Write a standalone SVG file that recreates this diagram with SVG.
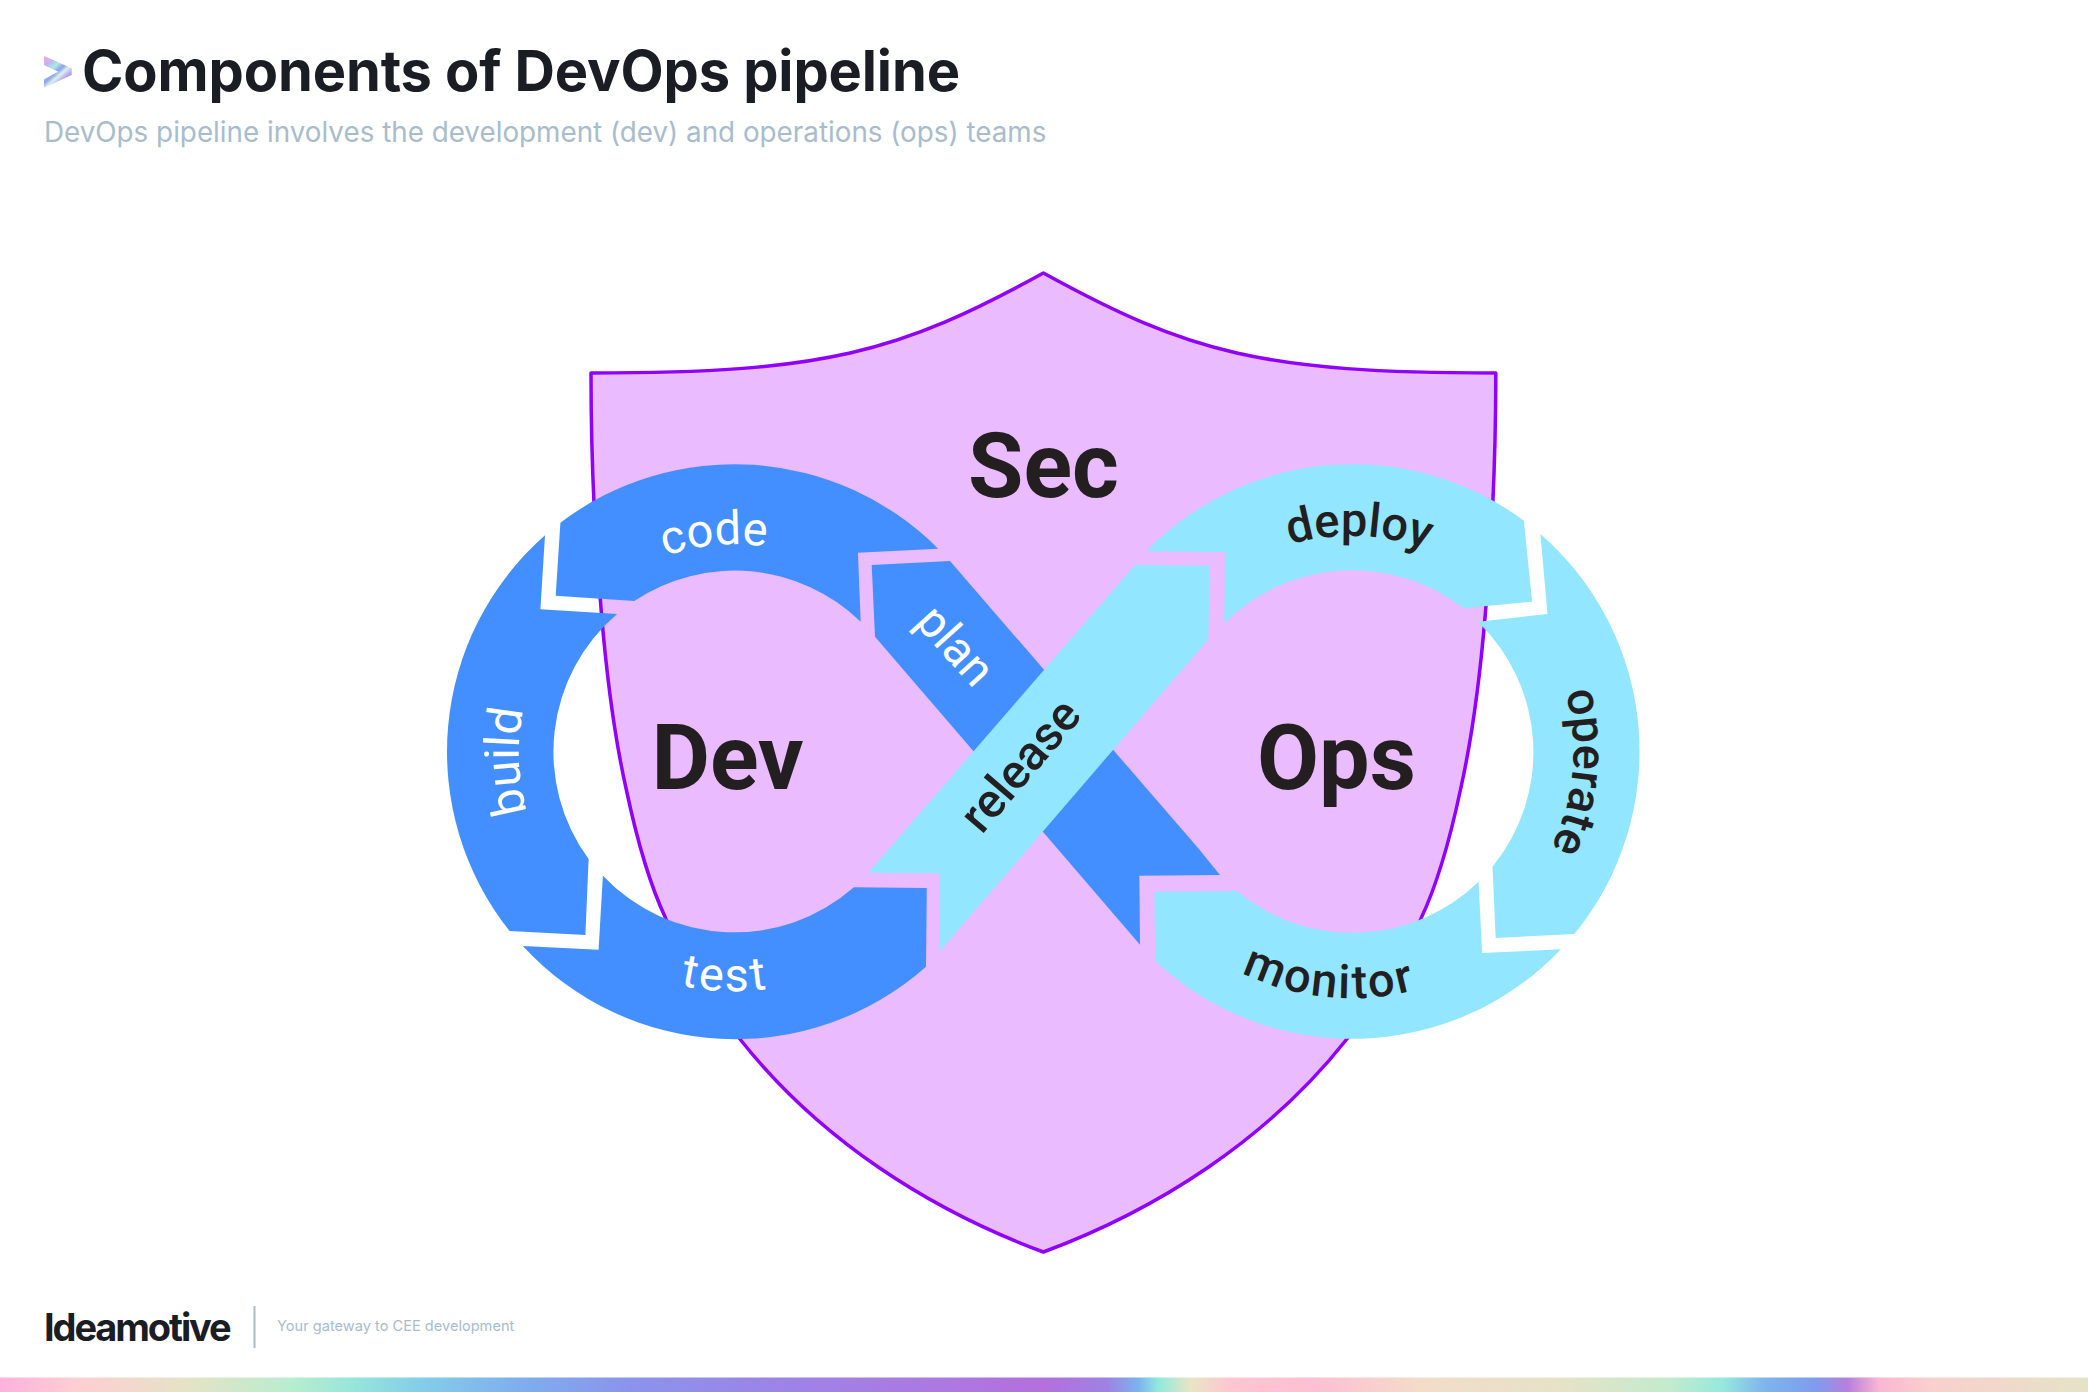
<svg xmlns="http://www.w3.org/2000/svg" width="2088" height="1392" viewBox="0 0 2088 1392">
<style>
.seg-b{fill:#448fff}
.seg-c{fill:#92e6ff}
.lb{font-family:Roboto,"Liberation Sans",sans-serif;font-weight:500;font-size:47px}
.w{fill:#fff;font-weight:450}
.d{fill:#231f20}
.big{font-family:Roboto,"Liberation Sans",sans-serif;font-weight:700;font-size:90px;fill:#231f20}
</style>
<defs>
<linearGradient id="bar" x1="0" y1="0" x2="1" y2="0">
<stop offset="0" stop-color="#fdb1dc"/><stop offset=".035" stop-color="#ffcdd3"/><stop offset=".09" stop-color="#e5e3c5"/><stop offset=".14" stop-color="#b7edcf"/><stop offset=".17" stop-color="#96e5dc"/><stop offset=".2" stop-color="#84cee8"/><stop offset=".25" stop-color="#7eaeee"/><stop offset=".3" stop-color="#8a94ec"/><stop offset=".37" stop-color="#9c84e6"/><stop offset=".45" stop-color="#ac78e2"/><stop offset=".5" stop-color="#b46fdc"/><stop offset=".53" stop-color="#9d82e4"/><stop offset=".545" stop-color="#7cb2ee"/><stop offset=".555" stop-color="#90eadd"/><stop offset=".57" stop-color="#e8e5c5"/><stop offset=".59" stop-color="#ffc5d2"/><stop offset=".63" stop-color="#fdbfd4"/><stop offset=".68" stop-color="#f3dcc8"/><stop offset=".75" stop-color="#e5e3c6"/><stop offset=".8" stop-color="#c2ebcd"/><stop offset=".825" stop-color="#96e8de"/><stop offset=".845" stop-color="#7db5ec"/><stop offset=".87" stop-color="#7f9bee"/><stop offset=".885" stop-color="#b87fdc"/><stop offset=".9" stop-color="#fbb6d3"/><stop offset=".925" stop-color="#f9d0cd"/><stop offset="1" stop-color="#e5e3c6"/>
</linearGradient>
<linearGradient id="holo" gradientUnits="userSpaceOnUse" x1="44" y1="56" x2="72" y2="88">
<stop offset="0" stop-color="#f2a8e2"/><stop offset=".2" stop-color="#c3b4f2"/><stop offset=".35" stop-color="#a9ecdc"/><stop offset=".48" stop-color="#8fa0f0"/><stop offset=".58" stop-color="#d9f3ea"/><stop offset=".72" stop-color="#b59cf0"/><stop offset=".86" stop-color="#e3a6ec"/><stop offset="1" stop-color="#f9c0d8"/>
</linearGradient>
<path id="p-code" d="M546.600,665.400A207,207 0 0 1 903.500,631"/>
<path id="p-deploy" d="M1168.400,636.800A216,216 0 0 1 1541.700,650"/>
<path id="p-build" d="M638.700,944.500A212.500,212.500 0 0 1 617.200,574"/>
<path id="p-operate" d="M1482,572A221,221 0 0 1 1443,952.600"/>
<path id="p-test" d="M521,864A240,240 0 0 0 936.500,878.500"/>
<path id="p-monitor" d="M1126.600,853.300A247,247 0 0 0 1552.400,895"/>
</defs>
<rect width="2088" height="1392" fill="#fff"/>
<g id="header">
<path d="M44,56L71.700,68.300V75L44,87.700V79.300L58.300,71.700L44,65Z" fill="url(#holo)"/>
<text x="82" y="91" font-family="Inter,'Liberation Sans',sans-serif" font-weight="700" font-size="56" letter-spacing="-0.12" fill="#1a1d24">Components of DevOps pipeline</text>
<text x="44" y="141.500" font-family="Inter,'Liberation Sans',sans-serif" font-size="27.800" fill="#a9bccb">DevOps pipeline involves the development (dev) and operations (ops) teams</text>
</g>
<g id="shield">
<path d="M1043.400,273C898,353 824,373 591,373C591,450 594,530 601.400,613C607,680 614,735 626.400,790C637,840 650,885 665.700,918.300C685,970 712,1005 740.700,1040C820,1140 930,1210 1043.400,1252C1156.800,1210 1266.800,1140 1346.100,1040C1374.800,1005 1401.800,970 1421.100,918.300C1436.800,885 1449.800,840 1460.400,790C1472.800,735 1479.800,680 1485.400,613C1492.800,530 1495.800,450 1495.800,373C1262.800,373 1188.800,353 1043.400,273Z" fill="#eabcff" stroke="#9000ff" stroke-width="3.500" stroke-linejoin="round"/>
<text class="big" x="1043.500" y="496.500" text-anchor="middle">Sec</text>
</g>
<g id="connectors">
<g id="seg-plan"><path class="seg-b" d="M871.700,565L950,561L1198.300,848.300L1220,875L1139.300,875.700L1140,944.700L875,636.700Z"/><text class="lb w" transform="translate(944,656) rotate(48)" text-anchor="middle">plan</text></g>
<g id="seg-code"><path class="seg-b" d="M560.400,522.700A288,288 0 0 1 938.200,548.700L857.900,552.700L860.700,621.700A181,181 0 0 0 634.300,601L555.700,595.700Z"/><text class="lb w"><textPath href="#p-code" startOffset="50%" text-anchor="middle">code</textPath></text></g>
<g id="seg-build"><path class="seg-b" d="M545,535.300A288,288 0 0 0 509.600,931L585.400,935L588.600,859A181,181 0 0 1 617.100,614L540.400,609.300Z"/><text class="lb w" style="font-size:48px"><textPath href="#p-build" startOffset="51%" text-anchor="middle">build</textPath></text></g>
<g id="seg-test"><path class="seg-b" d="M522.900,946A288,288 0 0 0 926,966.700L926.800,888L853.900,887.300A181,181 0 0 1 602.900,875.700L598.600,949.700Z"/><text class="lb w" letter-spacing="2.500"><textPath href="#p-test" startOffset="50%" text-anchor="middle">test</textPath></text></g>
<g id="seg-release"><path class="seg-c" d="M1135,565L1210,565.700L1208.300,639.300L940,951L940,873.300L868.300,872.700Z"/><text class="lb d" style="font-size:48px" transform="translate(1032.500,775.800) rotate(-49.500)" text-anchor="middle">release</text></g>
<g id="seg-deploy"><path class="seg-c" d="M1146.400,551A288,288 0 0 1 1523.900,520.700L1532.100,601.700L1463.600,608.300A181,181 0 0 0 1224.300,623.300L1225,552.300Z"/><text class="lb d"><textPath href="#p-deploy" startOffset="50%" text-anchor="middle">deploy</textPath></text></g>
<g id="seg-operate"><path class="seg-c" d="M1540.400,534A288,288 0 0 1 1574.300,934L1495.700,938L1492.500,866.700A181,181 0 0 0 1477.900,621.700L1547.500,614Z"/><text class="lb d"><textPath href="#p-operate" startOffset="49.500%" text-anchor="middle">operate</textPath></text></g>
<g id="seg-monitor"><path class="seg-c" d="M1561,949.300A288,288 0 0 1 1155.400,961L1154.300,891.700L1236.800,891A181,181 0 0 0 1478.600,881.700L1482.100,953Z"/><text class="lb d" letter-spacing="2.300"><textPath href="#p-monitor" startOffset="50%" text-anchor="middle">monitor</textPath></text></g>
</g>
<g id="node-dev"><text class="big" x="651.500" y="789">Dev</text></g>
<g id="node-ops"><text class="big" x="1336.500" y="789" text-anchor="middle">Ops</text></g>
<g id="footer">
<text x="44" y="1341" font-family="Inter,'Liberation Sans',sans-serif" font-weight="700" font-size="38" letter-spacing="-2.100" fill="#1a1d24">Ideamotive</text>
<rect x="253.500" y="1306" width="2" height="42" fill="#a9bccb"/>
<text x="277" y="1331" font-family="Inter,'Liberation Sans',sans-serif" font-size="14.600" fill="#a9bccb">Your gateway to CEE development</text>
<rect y="1377.500" width="2088" height="14.500" fill="url(#bar)"/>
</g>
</svg>
